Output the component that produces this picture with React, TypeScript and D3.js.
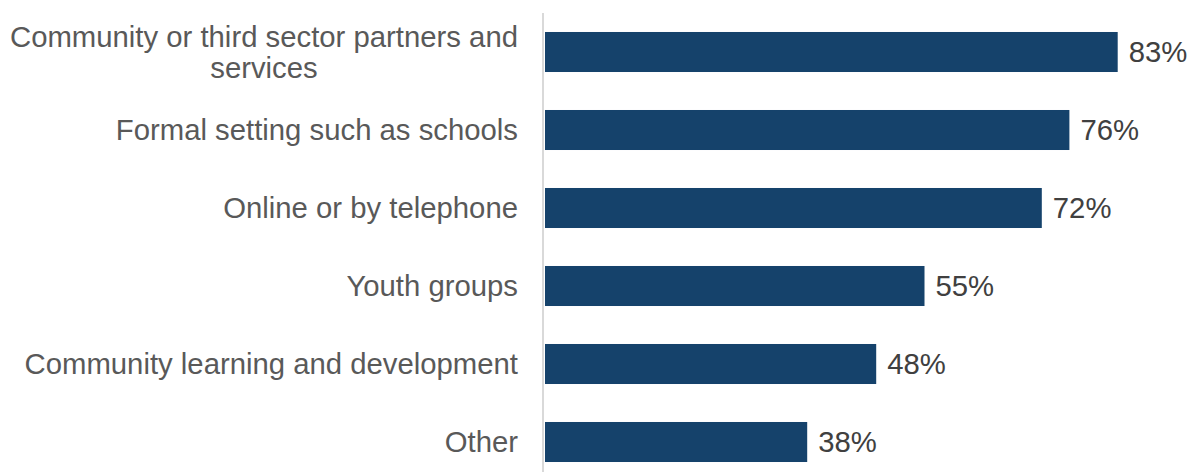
import React from "react";
import * as d3 from "d3";

const categories: string[][] = [
  ["Community or third sector partners and", "services"],
  ["Formal setting such as schools"],
  ["Online or by telephone"],
  ["Youth groups"],
  ["Community learning and development"],
  ["Other"],
];
const values: number[] = [83, 76, 72, 55, 48, 38];
const valueLabels: string[] = ["83%", "76%", "72%", "55%", "48%", "38%"];

const W = 1197;
const H = 472;
const FS = 29.3;
const font = "'Liberation Sans', Arial, sans-serif";

function measure(s: string): number {
  const c = document.createElement("canvas").getContext("2d");
  if (!c) return s.length * FS * 0.5;
  c.font = `${FS}px ${font}`;
  return c.measureText(s).width;
}

export default function App() {
  const x = d3.scaleLinear().domain([0, 100]).range([545, 545 + 690]);
  const y = d3
    .scaleBand<number>()
    .domain(d3.range(values.length))
    .range([13, 13 + 78 * 6])
    .paddingInner(0.487)
    .paddingOuter(0.2435);
  const labelRight = 518;
  return (
    <svg
      width={W}
      height={H}
      style={{ position: "absolute", left: 0, top: 0, display: "block", background: "#fff" }}
    >
      {values.map((v, i) => {
        const y0 = y(i)!;
        const bh = y.bandwidth();
        const cy = y0 + bh / 2;
        const lines = categories[i];
        const lh = 31;
        const maxW = Math.max(...lines.map(measure));
        const centerX = labelRight - maxW / 2;
        return (
          <g key={i}>
            <rect x={x(0)} y={y0} width={x(v) - x(0)} height={bh} fill="#15426B" />
            <text
              x={x(v) + 11}
              y={cy}
              dy="0.35em"
              fontFamily={font}
              fontSize={FS}
              fill="#404040"
            >
              {valueLabels[i]}
            </text>
            {lines.map((l, j) => (
              <text
                key={j}
                x={lines.length > 1 ? centerX : labelRight}
                y={cy + (j - (lines.length - 1) / 2) * lh}
                dy="0.35em"
                textAnchor={lines.length > 1 ? "middle" : "end"}
                fontFamily={font}
                fontSize={FS}
                fill="#595959"
              >
                {l}
              </text>
            ))}
          </g>
        );
      })}
      <line x1={543} x2={543} y1={13} y2={H} stroke="#D9D9D9" strokeWidth={2} />
    </svg>
  );
}
